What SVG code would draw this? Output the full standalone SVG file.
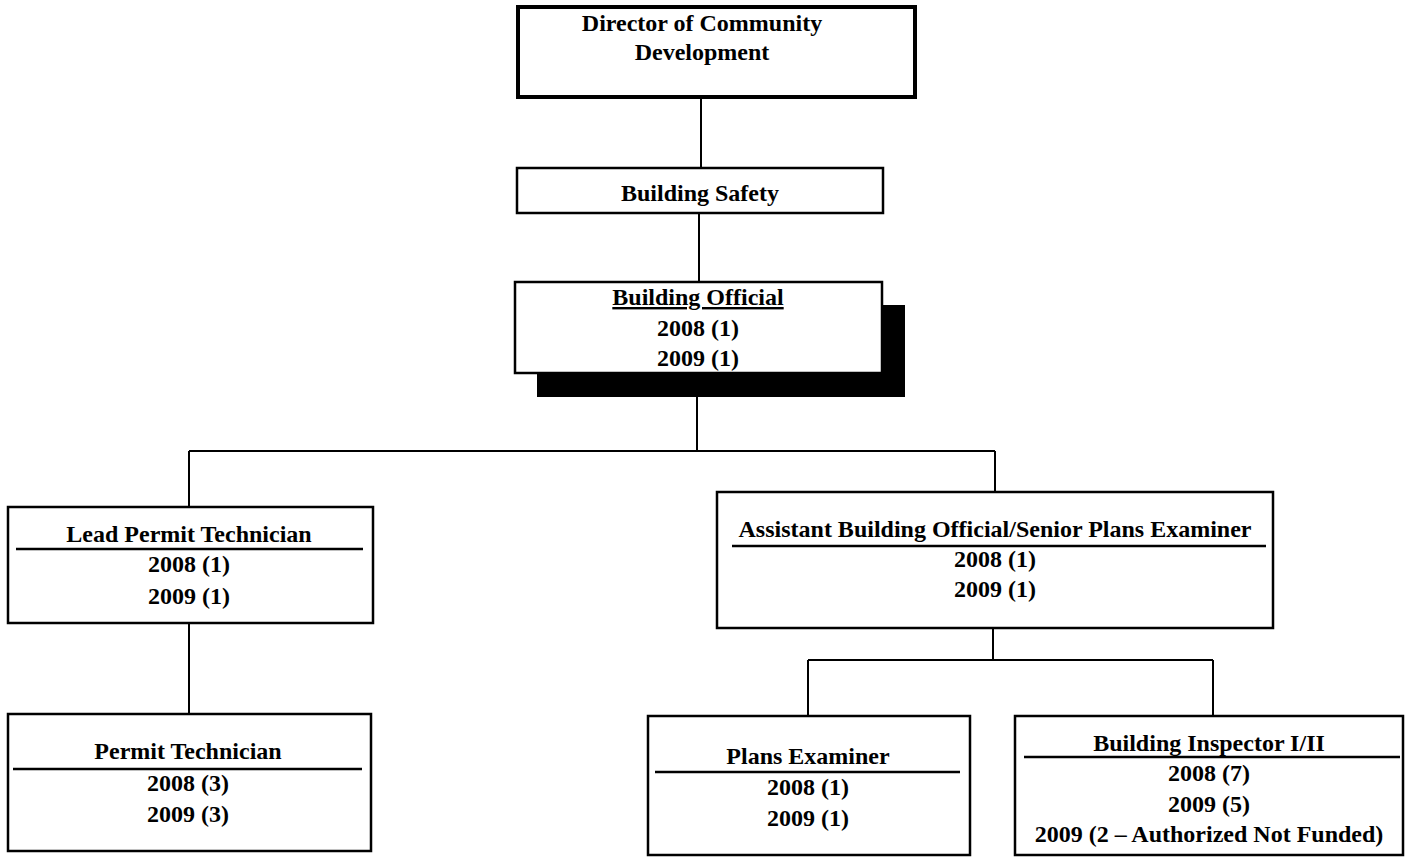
<svg xmlns="http://www.w3.org/2000/svg" width="1405" height="859" viewBox="0 0 1405 859">
<style>
text{font-family:"Liberation Serif","Times New Roman",serif;font-weight:bold;font-size:24px;fill:#000;text-anchor:middle}
.box{fill:#fff;stroke:#000;stroke-width:2.5}
.rule{stroke:#000;stroke-width:2.5}
.conn{stroke:#000;stroke-width:2;fill:none}
</style>
<rect width="1405" height="859" fill="#fff"/>
<g id="connectors">
<path class="conn" d="M701 97V168M699 213V282M697 397V451M189 451H995M189 451V507M995 451V492M189 623V714M993 628V660M808 660H1213M808 660V716M1213 660V716"/>
</g>
<g id="director">
<rect x="518" y="7" width="397" height="90" fill="#fff" stroke="#000" stroke-width="4"/>
<text x="702" y="31">Director of Community</text>
<text x="702" y="60">Development</text>
</g>
<g id="building-safety">
<rect class="box" x="517" y="168" width="366" height="45"/>
<text x="700" y="201">Building Safety</text>
</g>
<g id="building-official">
<rect x="537" y="305" width="368" height="92" fill="#000"/>
<rect class="box" x="515" y="282" width="367" height="91"/>
<text x="698" y="305" text-decoration="underline">Building Official</text>
<text x="698" y="336">2008 (1)</text>
<text x="698" y="366">2009 (1)</text>
</g>
<g id="lead-permit-tech">
<rect class="box" x="8" y="507" width="365" height="116"/>
<text x="189" y="542">Lead Permit Technician</text>
<line class="rule" x1="16" y1="549" x2="363" y2="549"/>
<text x="189" y="572">2008 (1)</text>
<text x="189" y="604">2009 (1)</text>
</g>
<g id="permit-tech">
<rect class="box" x="8" y="714" width="363" height="137"/>
<text x="188" y="759">Permit Technician</text>
<line class="rule" x1="13" y1="769" x2="362" y2="769"/>
<text x="188" y="791">2008 (3)</text>
<text x="188" y="822">2009 (3)</text>
</g>
<g id="assistant-building-official">
<rect class="box" x="717" y="492" width="556" height="136"/>
<text x="995" y="537">Assistant Building Official/Senior Plans Examiner</text>
<line class="rule" x1="732" y1="546" x2="1266" y2="546"/>
<text x="995" y="567">2008 (1)</text>
<text x="995" y="597">2009 (1)</text>
</g>
<g id="plans-examiner">
<rect class="box" x="648" y="716" width="322" height="139"/>
<text x="808" y="764">Plans Examiner</text>
<line class="rule" x1="655" y1="772" x2="960" y2="772"/>
<text x="808" y="795">2008 (1)</text>
<text x="808" y="826">2009 (1)</text>
</g>
<g id="building-inspector">
<rect class="box" x="1015" y="716" width="388" height="139"/>
<text x="1209" y="751">Building Inspector I/II</text>
<line class="rule" x1="1024" y1="757" x2="1400" y2="757"/>
<text x="1209" y="781">2008 (7)</text>
<text x="1209" y="812">2009 (5)</text>
<text x="1209" y="842">2009 (2 – Authorized Not Funded)</text>
</g>
</svg>
